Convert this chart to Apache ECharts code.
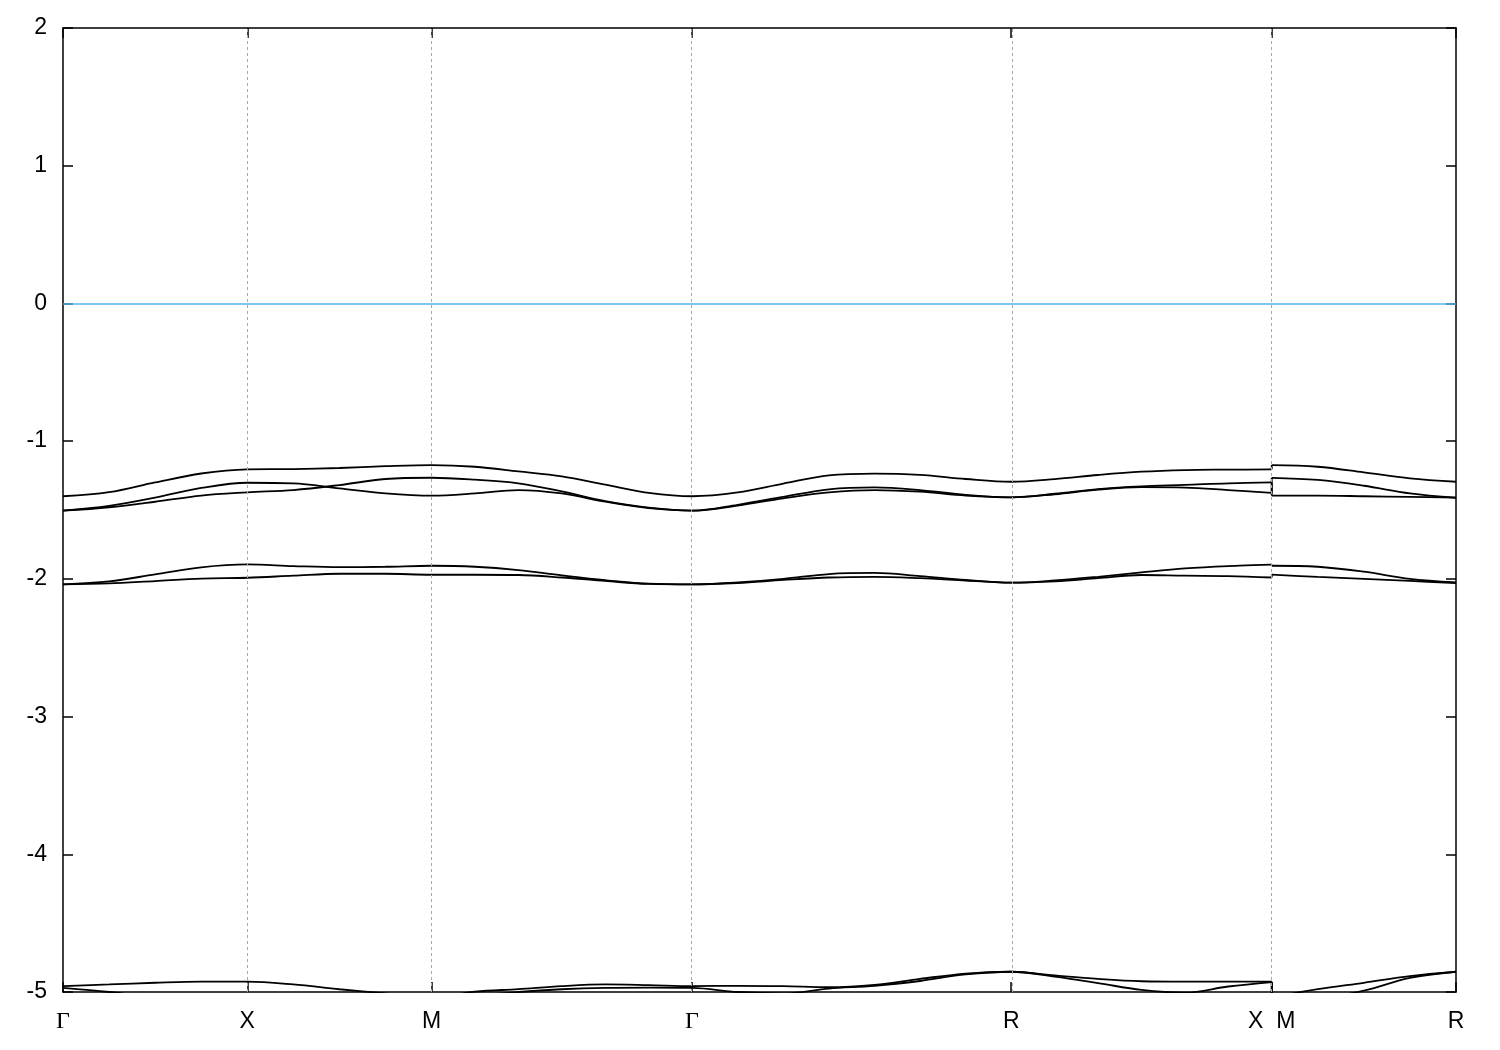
<!DOCTYPE html>
<html>
<head>
<meta charset="utf-8">
<script src="https://cdn.jsdelivr.net/npm/echarts@6/dist/echarts.min.js"></script>
<style>
html,body{margin:0;padding:0;background:#fff;}
#chart{width:1500px;height:1050px;}
</style>
</head>
<body>
<div id="chart"></div>
<script>
// k-path distance (units of 2π/a), Γ-X-M-Γ-R-X|M-R
const kPath = [0, 0.25, 0.5, 0.75, 1,
  1.25, 1.5, 1.75, 2,
  2.236, 2.471, 2.707, 2.943, 3.179, 3.414,
  3.662, 3.909, 4.157, 4.404, 4.651, 4.899, 5.146,
  5.382, 5.617, 5.853, 6.089, 6.324, 6.560,
  6.560, 6.810, 7.060, 7.310, 7.560];
// index where the path breaks (X | M)
const breakIndex = 28;

// high-symmetry points and their labels
const symK = [0, 1, 2, 3.414, 5.146, 6.560, 7.560];
const symLabels = ['Γ', 'X', 'M', 'Γ', 'R', 'X  M', 'R'];
const gridK = [1, 2, 3.414, 5.146, 6.560];

// energy ticks
const yTicks = [-5, -4, -3, -2, -1, 0, 1, 2];

// bands (eV) on kPath
const bandU1 = [-1.40, -1.371, -1.30, -1.235, -1.205,
  -1.203, -1.195, -1.182, -1.174,
  -1.186, -1.22, -1.256, -1.316, -1.375, -1.40,
  -1.372, -1.308, -1.248, -1.236, -1.245, -1.275, -1.295,
  -1.276, -1.246, -1.222, -1.21, -1.207, -1.205,
  -1.174, -1.186, -1.227, -1.27, -1.295];
const bandU2 = [-1.505, -1.47, -1.41, -1.34, -1.302,
  -1.306, -1.343, -1.379, -1.396,
  -1.38, -1.355, -1.38, -1.44, -1.487, -1.505,
  -1.462, -1.405, -1.35, -1.336, -1.355, -1.39, -1.408,
  -1.382, -1.348, -1.328, -1.318, -1.306, -1.30,
  -1.396, -1.396, -1.40, -1.405, -1.41];
const bandU3 = [-1.505, -1.48, -1.44, -1.395, -1.372,
  -1.355, -1.319, -1.275, -1.266,
  -1.28, -1.306, -1.365, -1.435, -1.483, -1.505,
  -1.468, -1.415, -1.372, -1.355, -1.367, -1.395, -1.408,
  -1.386, -1.352, -1.334, -1.337, -1.355, -1.375,
  -1.266, -1.282, -1.324, -1.379, -1.411];
const bandM1 = [-2.04, -2.019, -1.967, -1.916, -1.895,
  -1.907, -1.915, -1.912, -1.905,
  -1.912, -1.936, -1.975, -2.01, -2.035, -2.04,
  -2.025, -2.0, -1.965, -1.957, -1.98, -2.008, -2.028,
  -2.012, -1.985, -1.953, -1.924, -1.907, -1.897,
  -1.905, -1.912, -1.948, -2.0, -2.026];
const bandM2 = [-2.04, -2.033, -2.016, -1.999, -1.992,
  -1.977, -1.963, -1.963, -1.97,
  -1.97, -1.972, -1.99, -2.015, -2.037, -2.04,
  -2.03, -2.008, -1.99, -1.985, -1.995, -2.012, -2.028,
  -2.018, -1.995, -1.972, -1.977, -1.98, -1.99,
  -1.97, -1.986, -2.0, -2.015, -2.03];
const bandL1 = [-4.957, -4.945, -4.933, -4.925, -4.925,
  -4.945, -4.98, -5.01, -5.04,
  -4.998, -4.979, -4.957, -4.945, -4.95, -4.957,
  -4.955, -4.958, -4.965, -4.948, -4.905, -4.866, -4.853,
  -4.88, -4.905, -4.922, -4.925, -4.925, -4.925,
  -5.04, -4.979, -4.933, -4.885, -4.853];
const bandL2 = [-4.97, -5.0, -5.04, -5.06, -5.07,
  -5.08, -5.09, -5.09, -5.08,
  -5.03, -5.0, -4.98, -4.97, -4.968, -4.97,
  -5.0, -5.01, -4.975, -4.955, -4.92, -4.872, -4.853,
  -4.888, -4.935, -4.985, -5.005, -4.96, -4.928,
  -5.08, -5.05, -4.99, -4.897, -4.853];

const bands = [bandU1, bandU2, bandU3, bandM1, bandM2, bandL1, bandL2];
const fermi = 0;

const FONT = 'Liberation Sans';
function symName(v) {
  for (let i = 0; i < symK.length; i++) {
    if (Math.abs(symK[i] - v) < 1e-6) return symLabels[i];
  }
  return '';
}

const chart = echarts.init(document.getElementById('chart'), null, {renderer: 'canvas'});

const lineStyle = {color: '#000', width: 1.8};
function pts(b, from, to) {
  const out = [];
  for (let i = from; i < to; i++) out.push([kPath[i], b[i]]);
  return out;
}
const series = [];
bands.forEach(function (b) {
  series.push({type: 'line', data: pts(b, 0, breakIndex), showSymbol: false, symbol: 'none',
    smooth: 0.35, clip: true, lineStyle: lineStyle, silent: true, z: 3});
  series.push({type: 'line', data: pts(b, breakIndex - 1, breakIndex + 1), showSymbol: false, symbol: 'none',
    smooth: false, clip: true, lineStyle: lineStyle, silent: true, z: 3});
  series.push({type: 'line', data: pts(b, breakIndex, kPath.length), showSymbol: false, symbol: 'none',
    smooth: 0.35, clip: true, lineStyle: lineStyle, silent: true, z: 3});
});

series.push({
  type: 'line',
  data: [],
  silent: true,
  markLine: {
    silent: true,
    symbol: ['none', 'none'],
    label: {show: false},
    animation: false,
    data: gridK.map(function (k) {
      return {xAxis: k, lineStyle: {color: '#a8a8a8', type: [3, 3], width: 1}};
    }).concat([{yAxis: fermi, lineStyle: {color: '#56b4e9', type: 'solid', width: 1.5}}])
  },
  z: 2
});

const option = {
  animation: false,
  backgroundColor: '#fff',
  grid: {left: 63, right: 44, top: 28, bottom: 58, containLabel: false},
  xAxis: [{
    type: 'value',
    min: 0, max: 7.560,
    position: 'bottom',
    axisLine: {show: true, onZero: false, lineStyle: {color: '#000', width: 1.5}},
    axisTick: {show: true, inside: true, length: 10, customValues: symK, lineStyle: {color: '#000', width: 1.5}},
    axisLabel: {
      show: true, margin: 18, customValues: symK, color: '#000',
      fontFamily: FONT, fontSize: 23,
      formatter: function (v) {
        const s = symName(v);
        return s === 'Γ' ? '{g|Γ}' : s;
      },
      rich: {g: {fontFamily: 'Liberation Serif', fontSize: 24, color: '#000'}}
    },
    splitLine: {show: false}
  }, {
    type: 'value',
    min: 0, max: 7.560,
    position: 'top',
    axisLine: {show: true, onZero: false, lineStyle: {color: '#000', width: 1.5}},
    axisTick: {show: true, inside: true, length: 10, customValues: symK, lineStyle: {color: '#000', width: 1.5}},
    axisLabel: {show: false},
    splitLine: {show: false}
  }],
  yAxis: [{
    type: 'value',
    min: -5, max: 2, interval: 1,
    position: 'left',
    axisLine: {show: true, onZero: false, lineStyle: {color: '#000', width: 1.5}},
    axisTick: {show: true, inside: true, length: 10, lineStyle: {color: '#000', width: 1.5}},
    axisLabel: {show: true, margin: 16, color: '#000', fontFamily: FONT, fontSize: 23,
      customValues: yTicks,
      formatter: function (v) { return String(v); }},
    splitLine: {show: false}
  }, {
    type: 'value',
    min: -5, max: 2, interval: 1,
    position: 'right',
    axisLine: {show: true, onZero: false, lineStyle: {color: '#000', width: 1.5}},
    axisTick: {show: true, inside: true, length: 10, lineStyle: {color: '#000', width: 1.5}},
    axisLabel: {show: false},
    splitLine: {show: false}
  }],
  series: series
};
chart.setOption(option);
</script>
</body>
</html>
